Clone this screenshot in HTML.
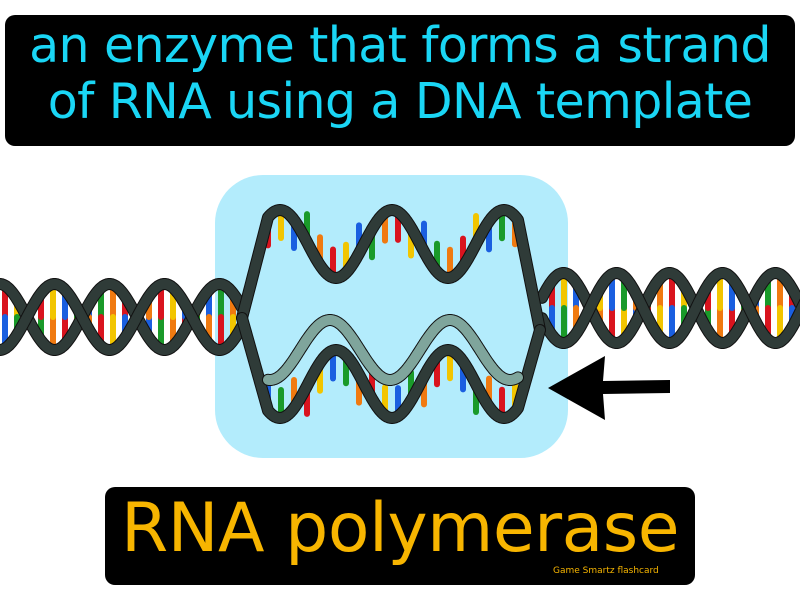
<!DOCTYPE html>
<html><head><meta charset="utf-8"><style>
body{margin:0;width:800px;height:600px;background:#fff;overflow:hidden;position:relative;font-family:"Liberation Sans","DejaVu Sans",sans-serif}
.box{position:absolute;background:#000;border-radius:10px}
</style></head><body>
<div class="box" style="left:5px;top:15px;width:790px;height:131px"></div>
<div style="position:absolute;left:0;top:18px;width:800px;text-align:center;color:#1ad6f5;font-size:49px;line-height:56px;font-family:'DejaVu Sans',sans-serif;letter-spacing:-0.6px">an enzyme that forms a strand<br>of RNA using a DNA template</div>
<svg id="art" width="800" height="600" style="position:absolute;left:0;top:0">
<rect x="215" y="175" width="353" height="283" rx="48" fill="#b3ecfc"/>
<g id="g"></g>
<polygon points="548,388 605,356 603,381 670,380 670,393 603,394 605,420" fill="#000"/>
</svg>
<div class="box" style="left:105px;top:487px;width:590px;height:98px"></div>
<div style="position:absolute;left:105px;top:489px;width:590px;text-align:center;color:#f7b500;font-size:68px;line-height:80px;font-family:'DejaVu Sans',sans-serif;letter-spacing:-0.5px">RNA polymerase</div>
<div style="position:absolute;left:553px;top:566px;color:#f7b500;font-size:9px;font-family:'DejaVu Sans',sans-serif">Game Smartz flashcard</div>
<script>
const NS="http://www.w3.org/2000/svg";const g=document.getElementById('g');
const cols=['#d9141e','#f2c500','#1a5fe0','#1a9a2a','#f07a10'];
function el(t,a,n){const e=document.createElementNS(NS,t);for(const k in a)e.setAttribute(k,a[k]);


g.appendChild(e);return e;}
function strand(f,x0,x1,color,w,n){let d='';for(let x=x0;x<=x1;x+=1){d+=(x==x0?'M':'L')+x+','+f(x).toFixed(1);}
el('path',{d:d,fill:'none',stroke:'#111',"stroke-width":w+2,"stroke-linecap":"round","stroke-linejoin":"round"},n+'-outline');
el('path',{d:d,fill:'none',stroke:color,"stroke-width":w,"stroke-linecap":"round","stroke-linejoin":"round"},n);}
function rungs(f1,f2,x0,x1,step,n){let i=0;for(let x=x0;x<=x1;x+=step){const a=f1(x),b=f2(x);if(Math.abs(a-b)<14){i++;continue;}
const m=(a+b)/2;el('line',{x1:x,y1:a,x2:x,y2:m,stroke:cols[i%5],"stroke-width":6,"stroke-linecap":"round"},n);
el('line',{x1:x,y1:m,x2:x,y2:b,stroke:cols[(i+2)%5],"stroke-width":6,"stroke-linecap":"round"},n);i++;}}
const L1=x=>317+33*Math.sin((x-27)*Math.PI/55), L2=x=>317-33*Math.sin((x-27)*Math.PI/55);
rungs(L1,L2,5,235,12,'left-base-pair');strand(L1,0,242,'#2f3b38',10,'left-strand-a');strand(L2,0,242,'#2f3b38',10,'left-strand-b');
const R1=x=>308+35*Math.sin((x-590)*Math.PI/53), R2=x=>308-35*Math.sin((x-590)*Math.PI/53);
rungs(R1,R2,552,800,12,'right-base-pair');strand(R1,542,805,'#2f3b38',10,'right-strand-a');strand(R2,542,805,'#2f3b38',10,'right-strand-b');
const WU=x=>244-34*Math.cos((x-280)*Math.PI/56), WD=x=>384+34*Math.cos((x-280)*Math.PI/56);
function piece(W,x){if(x<268)return 318+(W(268)-318)*(x-242)/26;if(x>518)return W(518)+(330-W(518))*(x-518)/22;return W(x);}
const U=x=>piece(WU,x), D=x=>piece(WD,x);
for(let x=268;x<=515;x+=13){const a=U(x);const c=cols[(x/13|0)%5];el('line',{x1:x,y1:a,x2:x,y2:a+(a<230?28:-28),stroke:c,"stroke-width":6,"stroke-linecap":"round"},'template-base');
const b=D(x);el('line',{x1:x,y1:b,x2:x,y2:b+(b>395?-28:28),stroke:cols[((x/13|0)+2)%5],"stroke-width":6,"stroke-linecap":"round"},'template-base');}
strand(U,242,540,'#2f3b38',10,'upper-strand');strand(D,242,540,'#2f3b38',10,'lower-strand');
const Q=x=>350-30*Math.sin((x-300)*Math.PI/60);
strand(Q,268,518,'#7fa59c',10,'rna-strand');
</script>
</body></html>
